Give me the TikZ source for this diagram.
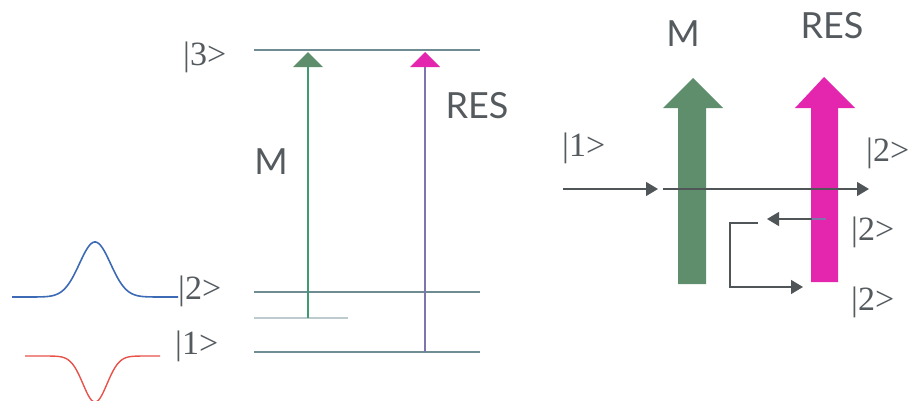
\documentclass[tikz,border=0pt]{standalone}
\usepackage{fontspec}
\setmainfont{Liberation Serif}
\newfontfamily\labfont{Lato}
\usetikzlibrary{arrows.meta}
\definecolor{lvl}{HTML}{6E8C92}
\definecolor{grn}{HTML}{3F9A72}
\definecolor{bgrn}{HTML}{5E8E6C}
\definecolor{pnk}{HTML}{E426AE}
\definecolor{prp}{HTML}{7F74AC}
\definecolor{txt}{HTML}{555A5E}
\definecolor{arr}{HTML}{505558}
\definecolor{blu}{HTML}{3C6AB4}
\definecolor{rd}{HTML}{E8524A}
\tikzset{
  lvlline/.style={draw=lvl, line width=1.2pt},
  ket/.style={text=txt, font=\fontsize{34}{34}\selectfont, inner sep=0pt},
  lab/.style={text=txt, font=\labfont\fontsize{36}{36}\selectfont, inner sep=0pt},
  flow/.style={draw=arr, line width=1.2pt, -{Triangle[length=12pt,width=14pt]}}
}
\begin{document}
\begin{tikzpicture}[x=1pt,y=-1pt]
\useasboundingbox (0,0) rectangle (913,400);
% ---------- left: level diagram ----------
\coordinate (l3a) at (254,50); \coordinate (l3b) at (480,50);
\coordinate (l2a) at (254,292); \coordinate (l2b) at (480,292);
\coordinate (lsa) at (254,318); \coordinate (lsb) at (348,318);
\coordinate (l1a) at (254,352); \coordinate (l1b) at (480,352);
\draw[lvlline] (l3a) -- (l3b);
\draw[lvlline] (l2a) -- (l2b);
\draw[draw=lvl!45, line width=1.2pt] (lsa) -- (lsb);
\draw[lvlline] (l1a) -- (l1b);
\node[ket, anchor=west] (k3) at (183,57) {|3>};
\node[ket, anchor=west] (k2) at (178,291) {|2>};
\node[ket, anchor=west] (k1) at (175,346) {|1>};
% M transition
\coordinate (mb) at (308,318); \coordinate (mt) at (308,66);
\draw[grn, line width=1.4pt] (mb) -- (mt);
\fill[bgrn] (293,67) -- (308,52) -- (323,67) -- cycle;
% RES transition
\coordinate (rb) at (425,352); \coordinate (rt) at (425,66);
\draw[prp, line width=1.2pt] (rb) -- (rt);
\fill[pnk] (410,67) -- (425,52) -- (440,67) -- cycle;
\node[lab] (mlab) at (271,162) {M};
\node[lab] (reslab) at (477,106) {RES};
% pulses
\draw[blu, line width=1.6pt, domain=12:178, samples=120, smooth]
  plot (\x, {297-55*exp(-((\x-95)/22)^2)});
\begin{scope}
\clip (0,330) rectangle (200,400);
\draw[rd, line width=1.4pt, domain=25:160, samples=120, smooth]
  plot (\x, {356+46*exp(-((\x-95)/17)^2)});
\end{scope}
% ---------- right: beam diagram ----------
\fill[bgrn] (678,284) -- (678,108) -- (663,108) -- (693,78) -- (723,108) -- (706,108) -- (706,284) -- cycle;
\fill[pnk] (811,282) -- (811,108) -- (795,108) -- (824,77) -- (855,108) -- (838,108) -- (838,282) -- cycle;
\node[lab] (mtop) at (683,34) {M};
\node[lab] (restop) at (832,26) {RES};
\node[ket, anchor=west] (r1) at (562,148) {|1>};
\node[ket, anchor=west] (r2a) at (866,153) {|2>};
\node[ket, anchor=west] (r2b) at (851,232) {|2>};
\node[ket, anchor=west] (r2c) at (851,302) {|2>};
\coordinate (inA) at (563,189); \coordinate (inB) at (658,189);
\draw[flow] (inA) -- (inB);
\coordinate (thA) at (663,189); \coordinate (thB) at (869,189);
\draw[flow] (thA) -- (thB);
\coordinate (rfA) at (826,219); \coordinate (rfB) at (767,219);
\draw[draw=prp, line width=1.2pt] (rfA) -- (812,219);
\draw[flow] (812,219) -- (rfB);
\coordinate (brA) at (758,223); \coordinate (brB) at (803,287);
\draw[flow] (brA) -- (730,223) -- (730,287) -- (brB);
\end{tikzpicture}
\end{document}
